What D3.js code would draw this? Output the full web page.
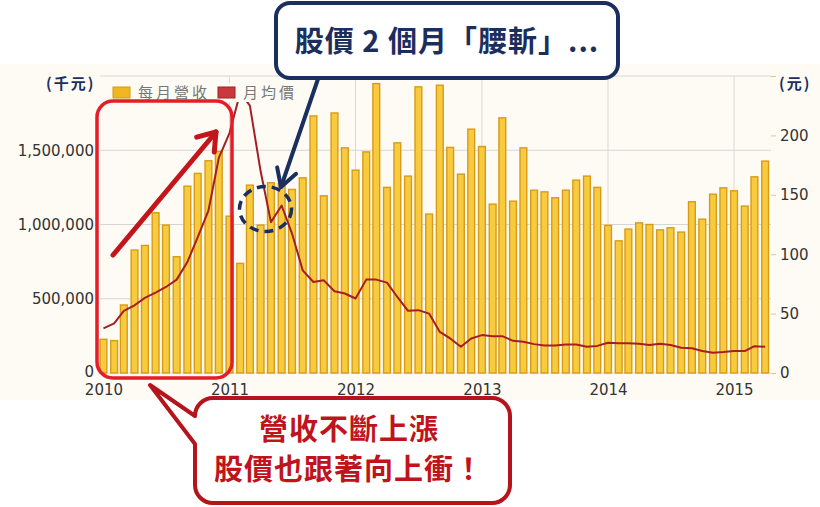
<!DOCTYPE html>
<html>
<head>
<meta charset="utf-8">
<script src="https://cdn.jsdelivr.net/npm/d3@7"></script>
<style>
  body { margin: 0; background: #fff; }
  svg { display: block; }
</style>
</head>
<body>
<svg id="chart" width="820" height="507"></svg>
<script>
// --- Data (千元 / 元), Jan 2010 .. Apr 2015 ---
const revenue = [
  227000, 218000, 458000, 828000, 859000, 1079000, 996000, 783000, 1258000, 1344000, 1429000, 1492000,
  1056000, 738000, 1265000, 996000, 1281000, 1275000, 1236000, 1314000, 1731000, 1193000, 1751000, 1516000,
  1366000, 1489000, 1949000, 1250000, 1550000, 1326000, 1927000, 1070000, 1938000, 1519000, 1339000, 1642000,
  1525000, 1137000, 1718000, 1157000, 1516000, 1231000, 1220000, 1180000, 1231000, 1299000, 1326000, 1250000,
  994000, 890000, 969000, 1011000, 1000000, 964000, 978000, 949000, 1153000, 1036000, 1204000, 1247000,
  1227000, 1124000, 1321000, 1427000
];
const price = [
  37.5, 41.7, 52.3, 57, 63.2, 67.7, 72.4, 78.6, 93.4, 114.3, 136.7, 181,
  202, 236, 225, 170, 127, 141, 117.4, 86.4, 76.6, 78, 68.8, 66.9,
  62.7, 78.6, 78.6, 76.1, 64, 52.3, 52.9, 50, 34.6, 29.1, 22.1, 29.1,
  31.9, 31, 31, 27.1, 26.3, 24.3, 23.2, 23.2, 24, 24, 22.1, 22.8,
  25.4, 25, 25, 24.7, 23.5, 24.7, 23.5, 21.2, 20.8, 18.5, 17, 17.6,
  18.5, 18.5, 22.6, 22.1
];
const years = [2010, 2011, 2012, 2013, 2014, 2015];
const leftTicks = [0, 500000, 1000000, 1500000];
const rightTicks = [0, 50, 100, 150, 200, 250];
const legendLabels = ["每月營收", "月均價"];

const months = d3.timeMonth.range(new Date(2010, 0, 1), new Date(2015, 4, 1));
const rows = months.map((m, i) => ({ date: m, revenue: revenue[i], price: price[i] }));

const svg = d3.select("#chart");
const NAVY = "#1b2f5e";
const CJK = "'Noto Sans CJK TC', 'Noto Sans CJK SC', sans-serif";

// --- Scales ---
const plot = { left: 100, right: 771, top: 76, bottom: 373 };
const x = d3.scaleTime()
  .domain([new Date(2009, 11, 22), new Date(2015, 3, 18)])
  .range([plot.left, plot.right]);
const yL = d3.scaleLinear().domain([0, 2000000]).range([plot.bottom, plot.top]);
const yR = d3.scaleLinear().domain([0, 250]).range([plot.bottom, plot.top]);

// --- Background ---
svg.append("rect").attr("width", 820).attr("height", 507).attr("fill", "#fff");
svg.append("rect").attr("x", 0).attr("y", 64).attr("width", 820).attr("height", 336).attr("fill", "#fdfbf4");

// --- Grid ---
const grid = svg.append("g");
grid.selectAll("line.h")
  .data([...leftTicks, 2000000])
  .join("line")
  .attr("x1", plot.left).attr("x2", plot.right)
  .attr("y1", d => yL(d)).attr("y2", d => yL(d))
  .attr("stroke", "#d6d6d6");
grid.selectAll("line.v")
  .data(years.slice(1))
  .join("line")
  .attr("x1", d => x(new Date(d, 0, 1))).attr("x2", d => x(new Date(d, 0, 1)))
  .attr("y1", plot.top).attr("y2", plot.bottom)
  .attr("stroke", "#d9d9d9");

// --- Bars ---
svg.append("g").selectAll("rect")
  .data(rows)
  .join("rect")
  .attr("x", d => x(d.date) - 3.4)
  .attr("width", 6.8)
  .attr("y", d => yL(d.revenue))
  .attr("height", d => plot.bottom - yL(d.revenue))
  .attr("fill", "#f8cb3e")
  .attr("stroke", "#d89b18")
  .attr("stroke-width", 1.4);

// --- Price line ---
svg.append("path")
  .datum(rows)
  .attr("fill", "none")
  .attr("stroke", "#a61e22")
  .attr("stroke-width", 2)
  .attr("stroke-linejoin", "round")
  .attr("d", d3.line().x(d => x(d.date)).y(d => yR(d.price)));

// --- Axes ---
const axisFont = g => g.selectAll("text")
  .attr("font-family", "'DejaVu Sans', sans-serif")
  .attr("font-size", 15)
  .attr("fill", "#333");

svg.append("g")
  .attr("transform", `translate(${plot.left},0)`)
  .call(d3.axisLeft(yL).tickValues(leftTicks).tickFormat(d3.format(",")).tickSize(0).tickPadding(6))
  .call(g => g.select(".domain").remove())
  .call(axisFont)
  .call(g => g.selectAll(".tick text").filter(d => d === 0).attr("dy", "0.2em"));

svg.append("g")
  .attr("transform", `translate(${plot.right},0)`)
  .call(d3.axisRight(yR).tickValues(rightTicks).tickFormat(d => d === 250 ? "" : d).tickSize(5).tickPadding(4))
  .call(g => g.select(".domain").remove())
  .call(g => g.selectAll(".tick line").attr("stroke", "#e9c48a"))
  .call(axisFont);

svg.append("g")
  .attr("transform", `translate(0,${plot.bottom})`)
  .call(d3.axisBottom(x).tickValues(years.map(y => new Date(y, 0, 1))).tickFormat(d3.timeFormat("%Y")).tickSize(0).tickPadding(11))
  .call(g => g.select(".domain").remove())
  .call(axisFont);

// unit labels
svg.append("text").attr("x", 46).attr("y", 89).text("(千元)")
  .attr("font-family", CJK).attr("font-size", 15).attr("font-weight", 700)
  .attr("letter-spacing", 2).attr("fill", NAVY);
svg.append("text").attr("x", 779).attr("y", 89).text("(元)")
  .attr("font-family", CJK).attr("font-size", 15).attr("font-weight", 700)
  .attr("letter-spacing", 2).attr("fill", NAVY);

// --- Legend ---
const legend = svg.append("g");
legend.append("rect").attr("x", 108).attr("y", 83).attr("width", 190).attr("height", 19).attr("fill", "#fdfbf4");
const legendItems = [
  { label: legendLabels[0], x: 113, fill: "#f1b720", stroke: "#d69a14" },
  { label: legendLabels[1], x: 218, fill: "#c9383a", stroke: "#a61e22" }
];
legendItems.forEach(it => {
  legend.append("rect").attr("x", it.x).attr("y", 87).attr("width", 17).attr("height", 11)
    .attr("fill", it.fill).attr("stroke", it.stroke);
  legend.append("text").attr("x", it.x + 25).attr("y", 98).text(it.label)
    .attr("font-family", CJK).attr("font-size", 15).attr("letter-spacing", 3).attr("fill", "#777");
});

// --- Annotations ---
function arrowHead(x1, y1, x2, y2, len, deg) {
  const a = Math.atan2(y1 - y2, x1 - x2);
  const r = deg * Math.PI / 180;
  return [
    [x2 + len * Math.cos(a + r), y2 + len * Math.sin(a + r)],
    [x2, y2],
    [x2 + len * Math.cos(a - r), y2 + len * Math.sin(a - r)]
  ];
}

const notes = svg.append("g");

// red box around 2010
notes.append("rect").attr("x", 97).attr("y", 101).attr("width", 135).attr("height", 277).attr("rx", 16)
  .attr("fill", "none").attr("stroke", "#e41e26").attr("stroke-width", 3.5);

// red rising arrow
notes.append("line").attr("x1", 113).attr("y1", 255).attr("x2", 216).attr("y2", 132)
  .attr("stroke", "#c3161c").attr("stroke-width", 5).attr("stroke-linecap", "round");
notes.append("path").attr("d", d3.line()(arrowHead(113, 255, 216, 132, 20, 35)))
  .attr("fill", "none").attr("stroke", "#c3161c").attr("stroke-width", 5)
  .attr("stroke-linecap", "round").attr("stroke-linejoin", "round");

// dashed circle
notes.append("ellipse").attr("cx", 265.5).attr("cy", 209).attr("rx", 26).attr("ry", 22.5)
  .attr("fill", "none").attr("stroke", NAVY).attr("stroke-width", 3.5).attr("stroke-dasharray", "9,6");

// navy pointer
notes.append("line").attr("x1", 319).attr("y1", 76).attr("x2", 281).attr("y2", 187)
  .attr("stroke", NAVY).attr("stroke-width", 4).attr("stroke-linecap", "round");
notes.append("path").attr("d", d3.line()(arrowHead(319, 76, 281, 187, 20, 30)))
  .attr("fill", "none").attr("stroke", NAVY).attr("stroke-width", 4)
  .attr("stroke-linecap", "round").attr("stroke-linejoin", "round");

// title box
notes.append("rect").attr("x", 276).attr("y", 3).attr("width", 342).attr("height", 75).attr("rx", 14)
  .attr("fill", "#fff").attr("stroke", NAVY).attr("stroke-width", 4);
notes.append("text").attr("x", 447).attr("y", 52).attr("text-anchor", "middle")
  .text("股價 2 個月「腰斬」...")
  .attr("font-family", CJK).attr("font-size", 29).attr("font-weight", 700)
  .attr("letter-spacing", 1).attr("fill", NAVY);

// bottom callout with tail
const b = { x0: 195, y0: 398, x1: 510, y1: 503, r: 18 };
const callout = d3.path();
callout.moveTo(b.x0 + b.r, b.y0);
callout.lineTo(b.x1 - b.r, b.y0);
callout.arcTo(b.x1, b.y0, b.x1, b.y0 + b.r, b.r);
callout.lineTo(b.x1, b.y1 - b.r);
callout.arcTo(b.x1, b.y1, b.x1 - b.r, b.y1, b.r);
callout.lineTo(b.x0 + b.r, b.y1);
callout.arcTo(b.x0, b.y1, b.x0, b.y1 - b.r, b.r);
callout.lineTo(b.x0, 444);
callout.lineTo(150, 385);
callout.lineTo(b.x0, b.y0 + b.r);
callout.arcTo(b.x0, b.y0, b.x0 + b.r, b.y0, b.r);
callout.closePath();
notes.append("path").attr("d", callout.toString())
  .attr("fill", "#fff").attr("stroke", "#b5141c").attr("stroke-width", 4).attr("stroke-linejoin", "round");

const calloutLines = ["營收不斷上漲", "股價也跟著向上衝！"];
notes.selectAll("text.callout")
  .data(calloutLines)
  .join("text")
  .attr("x", 349)
  .attr("y", (d, i) => 440 + i * 40)
  .attr("text-anchor", "middle")
  .text(d => d)
  .attr("font-family", CJK).attr("font-size", 29).attr("font-weight", 700)
  .attr("letter-spacing", 1).attr("fill", "#c0141c");
</script>
</body>
</html>
